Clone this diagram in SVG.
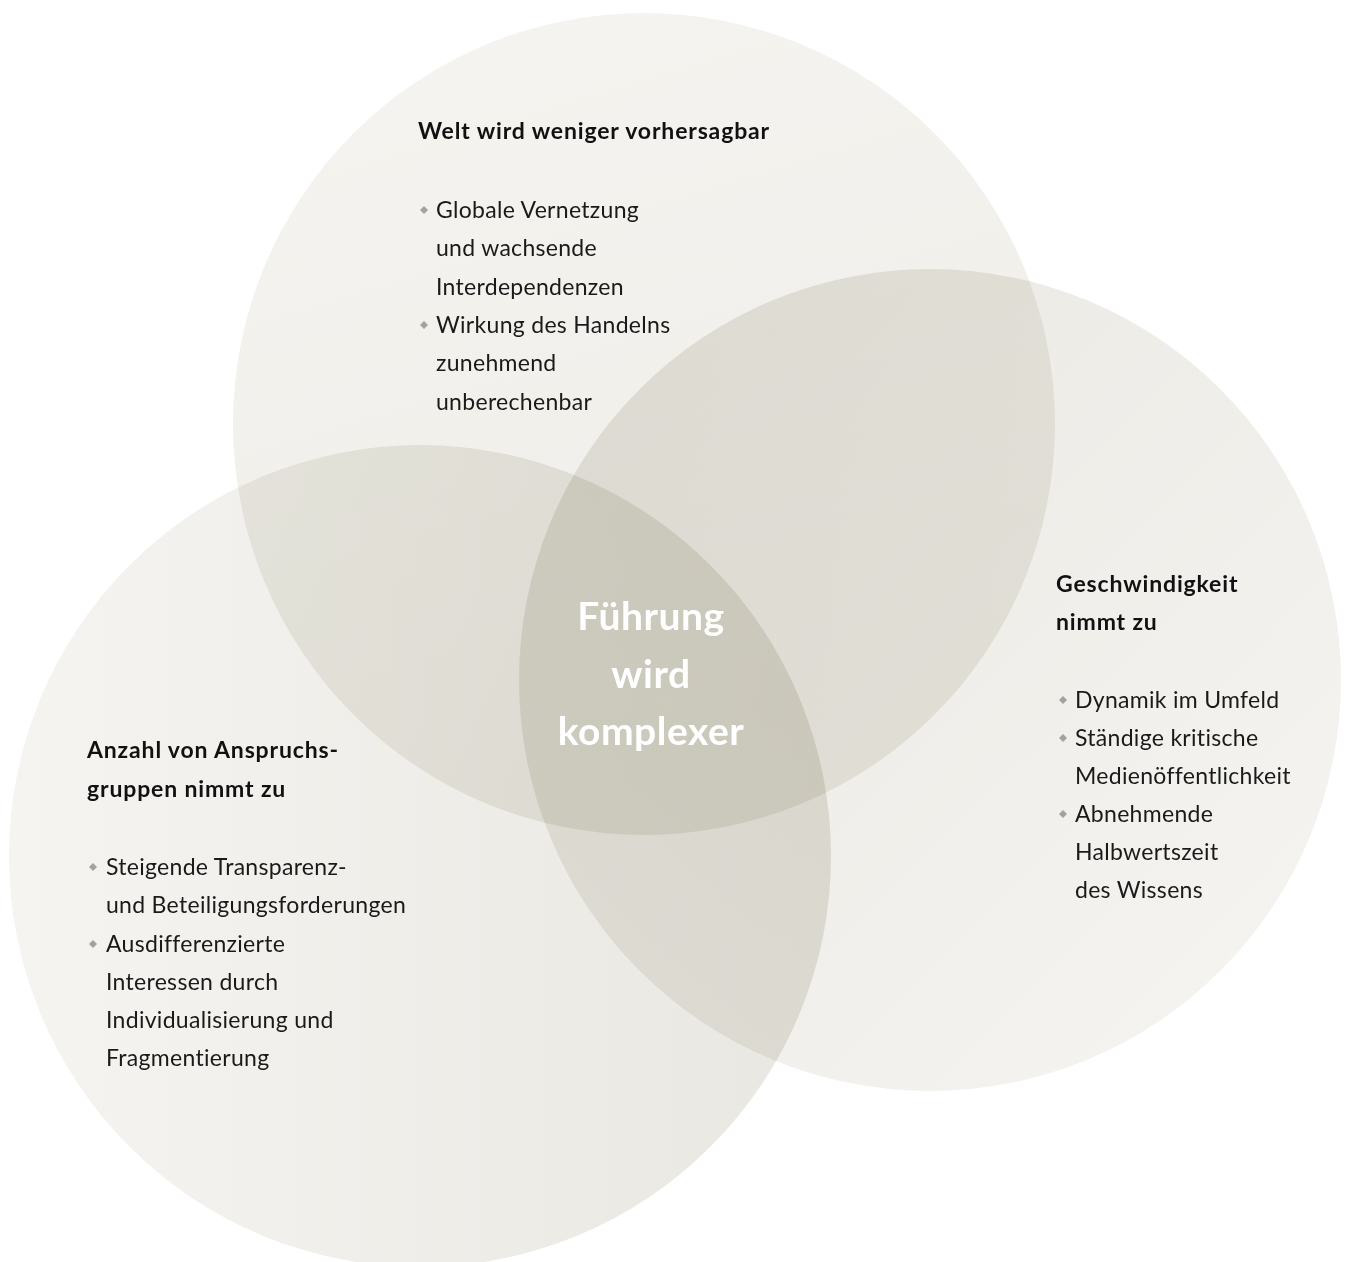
<svg xmlns="http://www.w3.org/2000/svg" width="1347" height="1262" viewBox="0 0 1347 1262">
  <style>
    .c { mix-blend-mode: multiply; }
    .t { font-family: Lato, "Liberation Sans", sans-serif; font-size: 23px; fill: #1a1a1a; letter-spacing: 0.3px; }
    .h { font-family: Lato, "Liberation Sans", sans-serif; font-size: 23px; font-weight: bold; fill: #111; letter-spacing: 0.85px; }
    .m { font-family: Lato, "Liberation Sans", sans-serif; font-size: 39px; font-weight: bold; fill: #ffffff; text-anchor: middle; letter-spacing: 0.5px; }
    .b { fill: #a3a2a0; }
  </style>
  <defs>
    <linearGradient id="gTop" x1="0" y1="0" x2="0.3" y2="1">
      <stop offset="0" stop-color="#f5f4f0"/>
      <stop offset="1" stop-color="#eeede8"/>
    </linearGradient>
    <linearGradient id="gRight" x1="0" y1="0" x2="1" y2="1">
      <stop offset="0" stop-color="#e8e7e1"/>
      <stop offset="1" stop-color="#f6f5f2"/>
    </linearGradient>
    <linearGradient id="gLeft" x1="0" y1="0" x2="1" y2="0">
      <stop offset="0" stop-color="#f5f4f1"/>
      <stop offset="1" stop-color="#e8e7e1"/>
    </linearGradient>
    <path id="dia" d="M0,-4 L4,0 L0,4 L-4,0 Z"/>
  </defs>

  <rect width="1347" height="1262" fill="#ffffff"/>

  <g id="circles">
    <circle id="circle-top" class="c" cx="644" cy="424" r="411" fill="url(#gTop)"/>
    <circle id="circle-right" class="c" cx="930" cy="680" r="411" fill="url(#gRight)"/>
    <circle id="circle-left" class="c" cx="420" cy="856" r="411" fill="url(#gLeft)"/>
  </g>

  <g id="connectors"></g>

  <g id="node-top">
    <text class="h" x="418" y="139">Welt wird weniger vorhersagbar</text>
    <use href="#dia" class="b" x="424" y="210"/>
    <text class="t" x="436" y="218">Globale Vernetzung</text>
    <text class="t" x="436" y="256">und wachsende</text>
    <text class="t" x="436" y="295">Interdependenzen</text>
    <use href="#dia" class="b" x="424" y="325"/>
    <text class="t" x="436" y="333">Wirkung des Handelns</text>
    <text class="t" x="436" y="371">zunehmend</text>
    <text class="t" x="436" y="410">unberechenbar</text>
  </g>

  <g id="node-right">
    <text class="h" x="1056" y="592">Geschwindigkeit</text>
    <text class="h" x="1056" y="630">nimmt zu</text>
    <use href="#dia" class="b" x="1063" y="700"/>
    <text class="t" x="1075" y="708">Dynamik im Umfeld</text>
    <use href="#dia" class="b" x="1063" y="738"/>
    <text class="t" x="1075" y="746">Ständige kritische</text>
    <text class="t" x="1075" y="784">Medienöffentlichkeit</text>
    <use href="#dia" class="b" x="1063" y="814"/>
    <text class="t" x="1075" y="822">Abnehmende</text>
    <text class="t" x="1075" y="860">Halbwertszeit</text>
    <text class="t" x="1075" y="898">des Wissens</text>
  </g>

  <g id="node-left">
    <text class="h" x="87" y="758">Anzahl von Anspruchs-</text>
    <text class="h" x="87" y="797">gruppen nimmt zu</text>
    <use href="#dia" class="b" x="93" y="867"/>
    <text class="t" x="106" y="875">Steigende Transparenz-</text>
    <text class="t" x="106" y="913">und Beteiligungsforderungen</text>
    <use href="#dia" class="b" x="93" y="944"/>
    <text class="t" x="106" y="952">Ausdifferenzierte</text>
    <text class="t" x="106" y="990">Interessen durch</text>
    <text class="t" x="106" y="1028">Individualisierung und</text>
    <text class="t" x="106" y="1066">Fragmentierung</text>
  </g>

  <g id="node-center">
    <text class="m" x="651" y="630">Führung</text>
    <text class="m" x="651" y="688">wird</text>
    <text class="m" x="651" y="745">komplexer</text>
  </g>
</svg>
